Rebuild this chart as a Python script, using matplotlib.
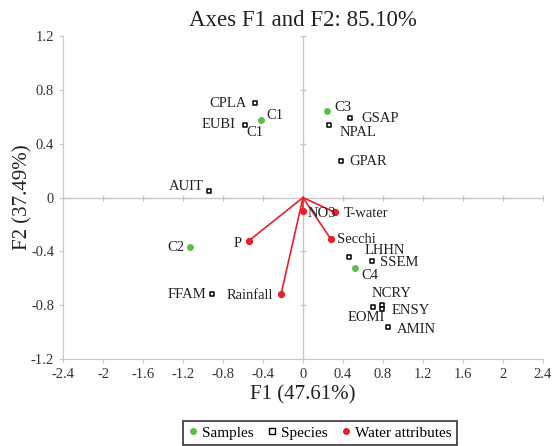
import numpy as np
import matplotlib.pyplot as plt
from matplotlib.lines import Line2D

plt.rcParams['font.family'] = ['Liberation Serif', 'DejaVu Serif']

# Samples (green dots)
samp_names = ['C1', 'C3', 'C2', 'C4']
samp_x = [-0.42, 0.24, -1.13, 0.52]
samp_y = [0.58, 0.64, -0.37, -0.52]

# Species (open squares)
spec_names = ['CPLA', 'EUBI', 'GSAP', 'NPAL', 'GPAR', 'AUIT', 'FFAM',
              'LHHN', 'SSEM', 'EOMI', 'NCRY', 'ENSY', 'AMIN']
spec_x = [-0.48, -0.58, 0.47, 0.26, 0.38, -0.94, -0.91,
          0.46, 0.69, 0.70, 0.79, 0.79, 0.85]
spec_y = [0.70, 0.54, 0.59, 0.54, 0.27, 0.05, -0.72,
          -0.44, -0.47, -0.81, -0.80, -0.83, -0.96]

# Water attributes (red vectors)
water_names = ['NO3', 'T-water', 'P', 'Secchi', 'Rainfall']
water_x = [0.00, 0.32, -0.54, 0.28, -0.22]
water_y = [-0.10, -0.11, -0.32, -0.31, -0.72]

xticks = [-2.4, -2, -1.6, -1.2, -0.8, -0.4, 0, 0.4, 0.8, 1.2, 1.6, 2, 2.4]
yticks = [-1.2, -0.8, -0.4, 0, 0.4, 0.8, 1.2]

green = '#5cbf4a'
red = '#e8202a'
grey = '#c8c8c8'

fig = plt.figure(figsize=(5.58, 4.46), dpi=100)
ax = fig.add_axes([0.113, 0.195, 0.860, 0.724])

ax.axhline(0, color=grey, lw=1, zorder=0)
ax.axvline(0, color=grey, lw=1, zorder=0)
# little ticks along the zero lines
ax.plot(xticks, [0] * len(xticks), ls='none', marker='|', ms=5, color=grey, zorder=0)
ax.plot([0] * len(yticks), yticks, ls='none', marker='_', ms=5, color=grey, zorder=0)

for x, y in zip(water_x, water_y):
    ax.plot([0, x], [0, y], color=red, lw=1.2, zorder=2)
ax.scatter(water_x, water_y, s=18, color=red, zorder=3)

ax.scatter(samp_x, samp_y, s=16, color=green, zorder=3)
ax.scatter(spec_x, spec_y, s=11, marker='s', facecolor='white',
           edgecolor='black', linewidths=1.1, zorder=3)

fs = 10.5
lab = dict(fontsize=fs, color='#222222')
# sample labels
offs = {'C1': (0.05, 0.03, 'left'), 'C3': (0.07, 0.03, 'left'),
        'C2': (-0.06, 0.0, 'right'), 'C4': (0.06, -0.06, 'left')}
for n, x, y in zip(samp_names, samp_x, samp_y):
    dx, dy, ha = offs[n]
    ax.text(x + dx, y + dy, n, ha=ha, va='center', **lab)
ax.text(spec_x[1] + 0.01, spec_y[1] - 0.06, 'C1', ha='left', va='center', **lab)

offs = {'CPLA': (-0.08, 0.0, 'right'), 'EUBI': (-0.09, 0.0, 'right'),
        'GSAP': (0.11, 0.0, 'left'), 'NPAL': (0.11, -0.06, 'left'),
        'GPAR': (0.08, 0.0, 'left'), 'AUIT': (-0.05, 0.03, 'right'),
        'FFAM': (-0.06, 0.0, 'right'), 'LHHN': (0.16, 0.05, 'left'),
        'SSEM': (0.08, -0.01, 'left'), 'EOMI': (0.12, -0.08, 'right'),
        'NCRY': (-0.10, 0.09, 'left'), 'ENSY': (0.10, -0.01, 'left'),
        'AMIN': (0.09, -0.02, 'left')}
for n, x, y in zip(spec_names, spec_x, spec_y):
    dx, dy, ha = offs[n]
    ax.text(x + dx, y + dy, n, ha=ha, va='center', **lab)

offs = {'NO3': (0.05, -0.02, 'left'), 'T-water': (0.09, -0.01, 'left'),
        'P': (-0.07, -0.02, 'right'), 'Secchi': (0.06, 0.0, 'left'),
        'Rainfall': (-0.08, -0.01, 'right')}
for n, x, y in zip(water_names, water_x, water_y):
    dx, dy, ha = offs[n]
    ax.text(x + dx, y + dy, n, ha=ha, va='center', **lab)

ax.set_xlim(-2.4, 2.4)
ax.set_ylim(-1.2, 1.2)
ax.set_xticks(xticks)
ax.set_xticklabels(['-2.4', '-2', '-1.6', '-1.2', '-0.8', '-0.4', '0', '0.4',
                    '0.8', '1.2', '1.6', '2', '2.4'])
ax.set_yticks(yticks)
ax.set_yticklabels(['-1.2', '-0.8', '-0.4', '0', '0.4', '0.8', '1.2'])
ax.tick_params(colors=grey, labelcolor='#333333', labelsize=10.5, length=3)
for s in ['top', 'right']:
    ax.spines[s].set_visible(False)
for s in ['left', 'bottom']:
    ax.spines[s].set_color(grey)

ax.set_title('Axes F1 and F2: 85.10%', fontsize=16.5, color='#222222', pad=7)
ax.set_xlabel('F1 (47.61%)', fontsize=15, color='#222222', labelpad=3)
ax.set_ylabel('F2 (37.49%)', fontsize=15, color='#222222', labelpad=-1)

handles = [
    Line2D([], [], ls='none', marker='o', ms=4, color=green),
    Line2D([], [], ls='none', marker='s', ms=4, mfc='white', mec='black'),
    Line2D([], [], ls='none', marker='o', ms=4, color=red),
]
leg = fig.legend(handles, ['Samples', 'Species', 'Water attributes'],
                 loc='lower center', bbox_to_anchor=(0.573, -0.015), ncol=3,
                 fontsize=11, frameon=True, fancybox=False, edgecolor='black',
                 handlelength=0.6, handletextpad=0.3, columnspacing=0.9,
                 borderpad=0.35)
leg.get_frame().set_linewidth(1.2)

fig.savefig('out.png', dpi=100)
